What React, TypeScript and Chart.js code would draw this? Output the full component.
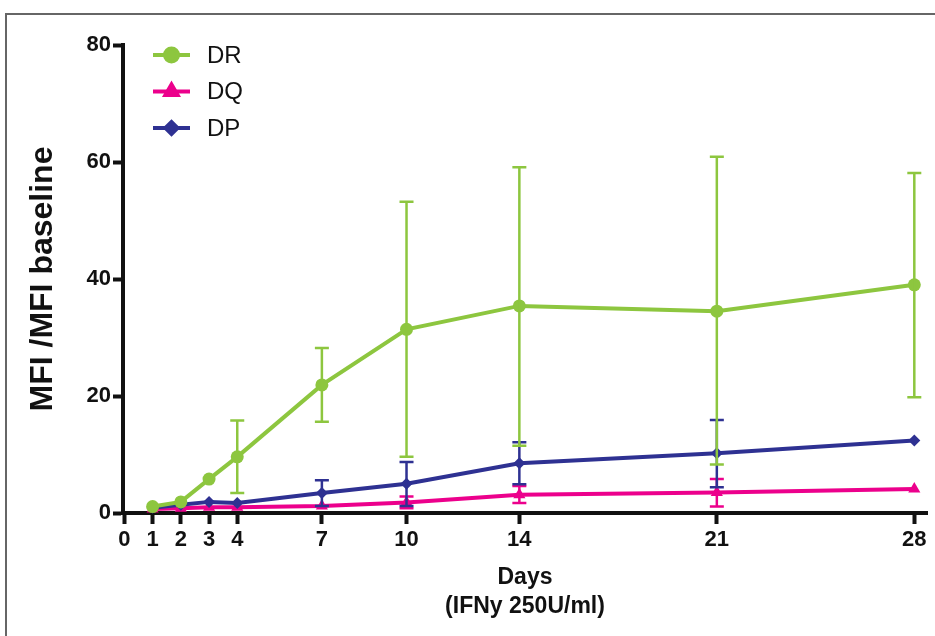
import React, { useEffect, useRef } from 'react';
import { Chart, registerables } from 'chart.js';
import { drawPoint } from 'chart.js/helpers';

Chart.register(...registerables);

const days = [1, 2, 3, 4, 7, 10, 14, 21, 28];
const xTickValues = [0, 1, 2, 3, 4, 7, 10, 14, 21, 28];
const yTickValues = [0, 20, 40, 60, 80];

const drMean = [1.1, 1.9, 5.8, 9.6, 21.9, 31.4, 35.4, 34.5, 39.0];
const drUpper = [null, null, null, 15.8, 28.2, 53.2, 59.1, 60.9, 58.1];
const drLower = [null, null, null, 3.4, 15.6, 9.6, 11.5, 8.3, 19.8];

const dqMean = [0.7, 0.8, 1.0, 1.0, 1.2, 1.8, 3.1, 3.5, 4.1];
const dqUpper = [null, null, null, null, null, 2.8, 4.6, 5.8, null];
const dqLower = [null, null, null, null, null, 0.8, 1.7, 1.1, null];

const dpMean = [0.9, 1.4, 1.9, 1.7, 3.4, 5.0, 8.5, 10.2, 12.4];
const dpUpper = [null, null, null, null, 5.6, 8.7, 12.1, 15.9, null];
const dpLower = [null, null, null, null, 1.2, 1.2, 4.9, 4.4, null];

const seriesLabels = ['DR', 'DQ', 'DP'];
const GREEN = '#8DC63F';
const PINK = '#EC008C';
const BLUE = '#2E3192';
const FONT = "'Liberation Sans', Arial, Helvetica, sans-serif";

const errorBarPlugin = {
  id: 'errorBars',
  afterDatasetDraw(chart: any, args: any) {
    const ds: any = chart.data.datasets[args.index];
    const eb = ds.errorBars;
    if (!eb) return;
    const { ctx } = chart;
    const xs = chart.scales.x;
    const ys = chart.scales.y;
    ctx.save();
    ctx.strokeStyle = ds.borderColor;
    ctx.lineWidth = 2.5;
    const cap = 7;
    days.forEach((d, i) => {
      const up = eb.upper[i];
      const lo = eb.lower[i];
      if (up == null && lo == null) return;
      const px = xs.getPixelForValue(d);
      const pm = ys.getPixelForValue(ds.data[i].y);
      const pu = up != null ? ys.getPixelForValue(up) : pm;
      const pl = lo != null ? ys.getPixelForValue(lo) : pm;
      ctx.beginPath();
      ctx.moveTo(px, pu);
      ctx.lineTo(px, pl);
      if (up != null) {
        ctx.moveTo(px - cap, pu);
        ctx.lineTo(px + cap, pu);
      }
      if (lo != null) {
        ctx.moveTo(px - cap, pl);
        ctx.lineTo(px + cap, pl);
      }
      ctx.stroke();
    });
    ctx.restore();
  },
};

const framePlugin = {
  id: 'frame',
  beforeDraw(chart: any) {
    const { ctx, width, height } = chart;
    ctx.save();
    ctx.fillStyle = '#ffffff';
    ctx.fillRect(0, 0, width, height);
    ctx.strokeStyle = '#666666';
    ctx.lineWidth = 2;
    ctx.strokeRect(6, 14, width + 20, height + 20);
    ctx.restore();
  },
};

const legendPlugin = {
  id: 'customLegend',
  afterDraw(chart: any) {
    const { ctx } = chart;
    const rows = [
      { label: seriesLabels[0], color: GREEN, style: 'circle', r: 6.5 },
      { label: seriesLabels[1], color: PINK, style: 'triangle', r: 7 },
      { label: seriesLabels[2], color: BLUE, style: 'rectRot', r: 6 },
    ];
    ctx.save();
    rows.forEach((row, i) => {
      const y = 55 + i * 36.5;
      ctx.strokeStyle = row.color;
      ctx.fillStyle = row.color;
      ctx.lineWidth = 4;
      ctx.beginPath();
      ctx.moveTo(153, y);
      ctx.lineTo(190, y);
      ctx.stroke();
      drawPoint(ctx, { pointStyle: row.style, radius: row.r, rotation: 0, borderWidth: 1 } as any, 171.5, y);
      ctx.fillStyle = '#111111';
      ctx.font = `24px ${FONT}`;
      ctx.textBaseline = 'middle';
      ctx.textAlign = 'left';
      ctx.fillText(row.label, 207, y + 1);
    });
    ctx.restore();
  },
};

export default function App() {
  const ref = useRef<HTMLCanvasElement>(null);
  useEffect(() => {
    const toPts = (arr: number[]) => days.map((d, i) => ({ x: d, y: arr[i] }));
    const chart = new Chart(ref.current as HTMLCanvasElement, {
      type: 'line',
      data: {
        datasets: [
          {
            label: seriesLabels[0],
            data: toPts(drMean),
            borderColor: GREEN,
            backgroundColor: GREEN,
            borderWidth: 4,
            pointStyle: 'circle',
            pointRadius: 6.5,
            pointBorderWidth: 0,
            tension: 0,
            order: 0,
            clip: false,
            errorBars: { upper: drUpper, lower: drLower },
          } as any,
          {
            label: seriesLabels[1],
            data: toPts(dqMean),
            borderColor: PINK,
            backgroundColor: PINK,
            borderWidth: 4,
            pointStyle: 'triangle',
            pointRadius: 7,
            pointBorderWidth: 0,
            tension: 0,
            order: 2,
            clip: false,
            errorBars: { upper: dqUpper, lower: dqLower },
          } as any,
          {
            label: seriesLabels[2],
            data: toPts(dpMean),
            borderColor: BLUE,
            backgroundColor: BLUE,
            borderWidth: 4,
            pointStyle: 'rectRot',
            pointRadius: 6,
            pointBorderWidth: 0,
            tension: 0,
            order: 1,
            clip: false,
            errorBars: { upper: dpUpper, lower: dpLower },
          } as any,
        ],
      },
      options: {
        responsive: false,
        animation: false,
        layout: { padding: { top: 45, right: 8, left: 0, bottom: 0 } },
        plugins: {
          legend: { display: false },
          tooltip: { enabled: false },
        },
        scales: {
          x: {
            type: 'linear',
            min: -0.05,
            max: 28.45,
            afterBuildTicks: (s: any) => {
              s.ticks = xTickValues.map((v) => ({ value: v }));
            },
            afterFit: (s: any) => {
              s.height = 123;
            },
            border: { display: true, width: 4, color: '#111111' },
            grid: {
              display: true,
              drawOnChartArea: false,
              drawTicks: true,
              tickLength: 11,
              tickWidth: 4,
              tickColor: '#111111',
            },
            ticks: {
              autoSkip: false,
              maxRotation: 0,
              padding: 3,
              color: '#111111',
              font: { family: FONT, size: 22, weight: 'bold' },
            },
            title: {
              display: true,
              text: ['Days', '(IFNy 250U/ml)'],
              color: '#111111',
              font: { family: FONT, size: 23, weight: 'bold', lineHeight: 1.26 },
              padding: { top: 0, bottom: 14.5 },
            },
          },
          y: {
            type: 'linear',
            min: 0,
            max: 80,
            afterBuildTicks: (s: any) => {
              s.ticks = yTickValues.map((v) => ({ value: v }));
            },
            afterFit: (s: any) => {
              s.width = 123;
            },
            border: { display: true, width: 4, color: '#111111' },
            grid: {
              display: true,
              drawOnChartArea: false,
              drawTicks: true,
              tickLength: 10,
              tickWidth: 4,
              tickColor: '#111111',
            },
            ticks: {
              padding: 2,
              color: '#111111',
              font: { family: FONT, size: 22, weight: 'bold' },
            },
            title: {
              display: true,
              text: 'MFI /MFI baseline',
              color: '#111111',
              font: { family: FONT, size: 32, weight: 'bold', lineHeight: 1.2 },
              padding: { top: 23.8, bottom: 0 },
            },
          },
        },
      },
      plugins: [framePlugin, errorBarPlugin, legendPlugin],
    } as any);
    return () => chart.destroy();
  }, []);
  return (
    <div style={{ position: 'absolute', left: 0, top: 0, width: 935, height: 636 }}>
      <canvas ref={ref} width={935} height={636} />
    </div>
  );
}
